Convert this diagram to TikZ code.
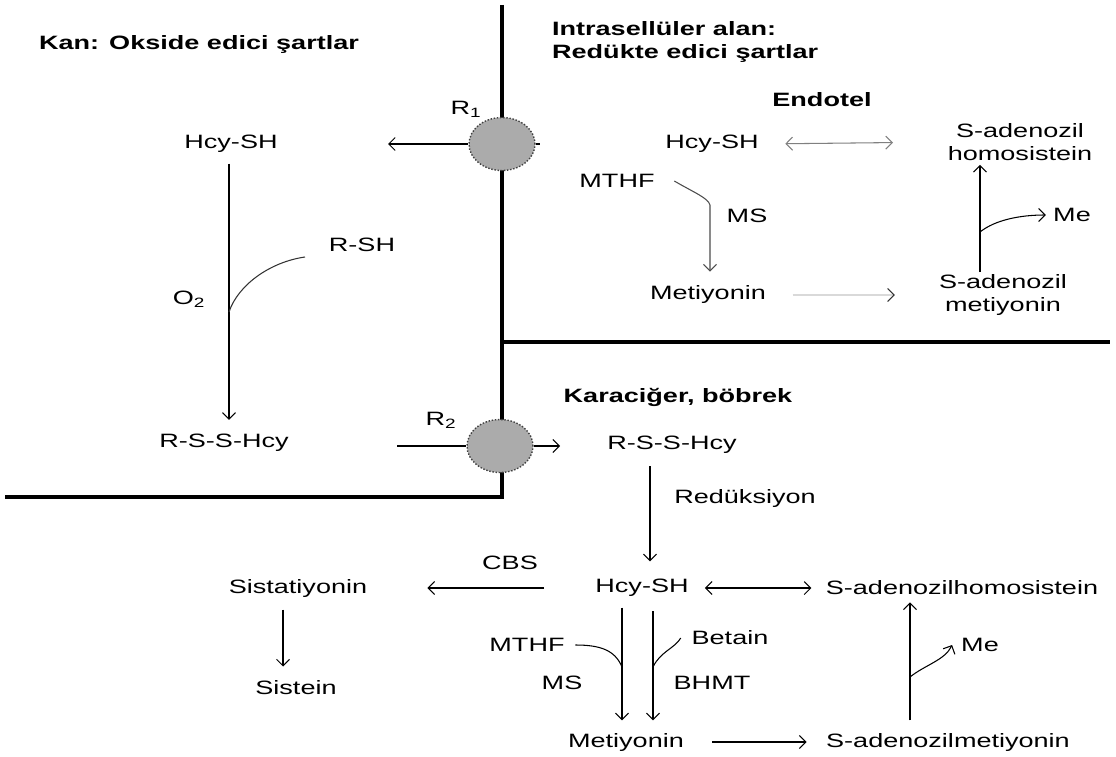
\documentclass[tikz,border=0pt]{standalone}
\usepackage{fontspec}
\setmainfont{Liberation Sans}[FakeStretch=1.4]
\usetikzlibrary{arrows.meta,shapes.geometric}
\begin{document}
\begin{tikzpicture}[x=0.02cm,y=-0.02cm,
  lbl/.style={font=\fontsize{11}{13.5}\selectfont, inner sep=1pt, align=center},
  hd/.style={font=\fontsize{11}{13.5}\selectfont\bfseries, inner sep=1pt, align=left},
  wall/.style={line width=1.8pt},
  rec/.style={ellipse, draw=black!75, densely dotted, line width=0.8pt, fill=black!33,
              minimum width=1.32cm, minimum height=1.06cm, inner sep=0pt},
  conn/.style={line width=0.6pt},
  tip/.style={-{Straight Barb[length=1.3mm,width=2.6mm]}},
  dtip/.style={{Straight Barb[length=1.3mm,width=2.6mm]}-{Straight Barb[length=1.3mm,width=2.6mm]}},
]
\useasboundingbox (0,0) rectangle (1116,757);
\fill[white] (0,0) rectangle (1116,757);

% compartment walls
\coordinate (wTop) at (502,5);
\coordinate (wCorner) at (502,497);
\coordinate (wLeft) at (5,497);
\coordinate (wMid) at (502,342);
\coordinate (wRight) at (1110,342);
\draw[wall] (wTop) -- (wCorner) -- (wLeft);
\draw[wall] (wMid) -- (wRight);

% headings
\node[hd, anchor=west] (kan) at (37,45) {Kan: Okside edici şartlar};
\node[hd, anchor=west] (intra) at (550,42) {Intrasellüler alan:\\Redükte edici şartlar};
\node[hd] (endo) at (822,100) {Endotel};
\node[hd] (kara) at (678,397) {Karaciğer, böbrek};

% receptors
\node[rec] (r1) at (502,144) {};
\node[lbl] (r1l) at (466,109) {R\textsubscript{1}};
\node[rec] (r2) at (500,446) {};
\node[lbl] (r2l) at (441,420) {R\textsubscript{2}};
\coordinate (r1tip) at (388,144);
\coordinate (r1stub) at (540,144);
\coordinate (r2start) at (397,446);
\coordinate (r2tip) at (560,446);
\draw[conn,tip] (r1.west) -- (r1tip);
\draw[conn] (r1.east) -- (r1stub);
\draw[conn] (r2start) -- (r2.west);
\draw[conn,tip] (r2.east) -- (r2tip);

% blood compartment
\node[lbl] (hcyL) at (231,144) {Hcy-SH};
\node[lbl] (rshL) at (362,245) {R-SH};
\node[lbl] (o2) at (189,299) {O\textsubscript{2}};
\node[lbl] (rssL) at (224,443) {R-S-S-Hcy};
\coordinate (axL) at (229,0);
\coordinate (o2join) at (229,312);
\coordinate (rshTail) at (305,257);
\draw[conn,tip,shorten <=5pt,shorten >=7pt] (hcyL.south -| axL) -- (rssL.north -| axL);
\draw[conn,black!80] (rshTail) .. controls (270,262) and (238,285) .. (o2join);

% endothelium
\node[lbl] (hcyE) at (712,144) {Hcy-SH};
\node[lbl] (sahE) at (1020,142) {S-adenozil\\homosistein};
\node[lbl] (mthfE) at (617,181) {MTHF};
\node[lbl] (msE) at (747,216) {MS};
\node[lbl] (metE) at (708,295) {Metiyonin};
\node[lbl] (samE) at (1003,295) {S-adenozil\\metiyonin};
\node[lbl] (meE) at (1072,215) {Me};
\draw[conn,dtip,black!50,shorten <=14pt,shorten >=30pt] (hcyE.east) -- (sahE.west);
\coordinate (jE) at (710,205);
\draw[conn,tip,black!70] ([xshift=10pt]mthfE.east) .. controls (695,193) and (708,198) .. (jE) -- ([yshift=7pt]metE.north -| jE);
\draw[conn,black!15,-{Straight Barb[length=1.3mm,width=2.6mm,color=black!80]},shorten <=14pt,shorten >=24pt] (metE.east) -- (samE.west);
\coordinate (axE) at (980,0);
\draw[conn,tip,shorten >=1pt] (samE.north -| axE) -- (sahE.south -| axE);
\coordinate (meJE) at (980,232);
\draw[conn,tip] (meJE) .. controls (995,220) and (1020,215) .. ([xshift=-3pt]meE.west);

% liver, kidney
\node[lbl] (rssB) at (672,445) {R-S-S-Hcy};
\node[lbl] (redB) at (745,498) {Redüksiyon};
\node[lbl] (hcyB) at (642,588) {Hcy-SH};
\node[lbl] (cbs) at (510,563) {CBS};
\node[lbl] (sist) at (298,588) {Sistatiyonin};
\node[lbl] (sistein) at (296,688) {Sistein};
\node[lbl] (sahB) at (962,588) {S-adenozilhomosistein};
\node[lbl] (mthfB) at (527,645) {MTHF};
\node[lbl] (betB) at (730,638) {Betain};
\node[lbl] (msB) at (562,683) {MS};
\node[lbl] (bhmtB) at (712,683) {BHMT};
\node[lbl] (metB) at (626,742) {Metiyonin};
\node[lbl] (samB) at (948,742) {S-adenozilmetiyonin};
\node[lbl] (meB) at (980,645) {Me};

\coordinate (axB) at (650,0);
\draw[conn,tip,shorten <=6pt,shorten >=9pt] (rssB.south -| axB) -- (hcyB.north -| axB);
\draw[conn,tip,shorten <=28pt,shorten >=33pt] (hcyB.west) -- (sist.east);
\coordinate (axS) at (283,0);
\draw[conn,tip,shorten <=6pt,shorten >=7pt] (sist.south -| axS) -- (sistein.north -| axS);
\draw[conn,dtip,shorten <=8pt,shorten >=7pt] (hcyB.east) -- (sahB.west);
\coordinate (axM1) at (622,0);
\coordinate (axM2) at (653,0);
\draw[conn,tip,shorten <=5pt,shorten >=6pt] (hcyB.south -| axM1) -- (metB.north -| axM1);
\draw[conn,tip,shorten <=7pt,shorten >=6pt] (hcyB.south -| axM2) -- (metB.north -| axM2);
\coordinate (jMS) at (622,667);
\coordinate (jBH) at (653,667);
\draw[conn] ([xshift=5pt]mthfB.east) .. controls (600,645) and (615,650) .. (jMS);
\draw[conn] ([xshift=-5pt]betB.west) .. controls (675,648) and (660,652) .. (jBH);
\draw[conn,tip,shorten <=15pt,shorten >=10pt] (metB.east) -- (samB.west);
\coordinate (axU) at (910,0);
\draw[conn,tip,shorten <=6pt,shorten >=3pt] (samB.north -| axU) -- (sahB.south -| axU);
\coordinate (jMe) at (910,677);
\draw[conn,tip] (jMe) .. controls (925,665) and (945,660) .. ([xshift=-4pt]meB.west);
\end{tikzpicture}
\end{document}
